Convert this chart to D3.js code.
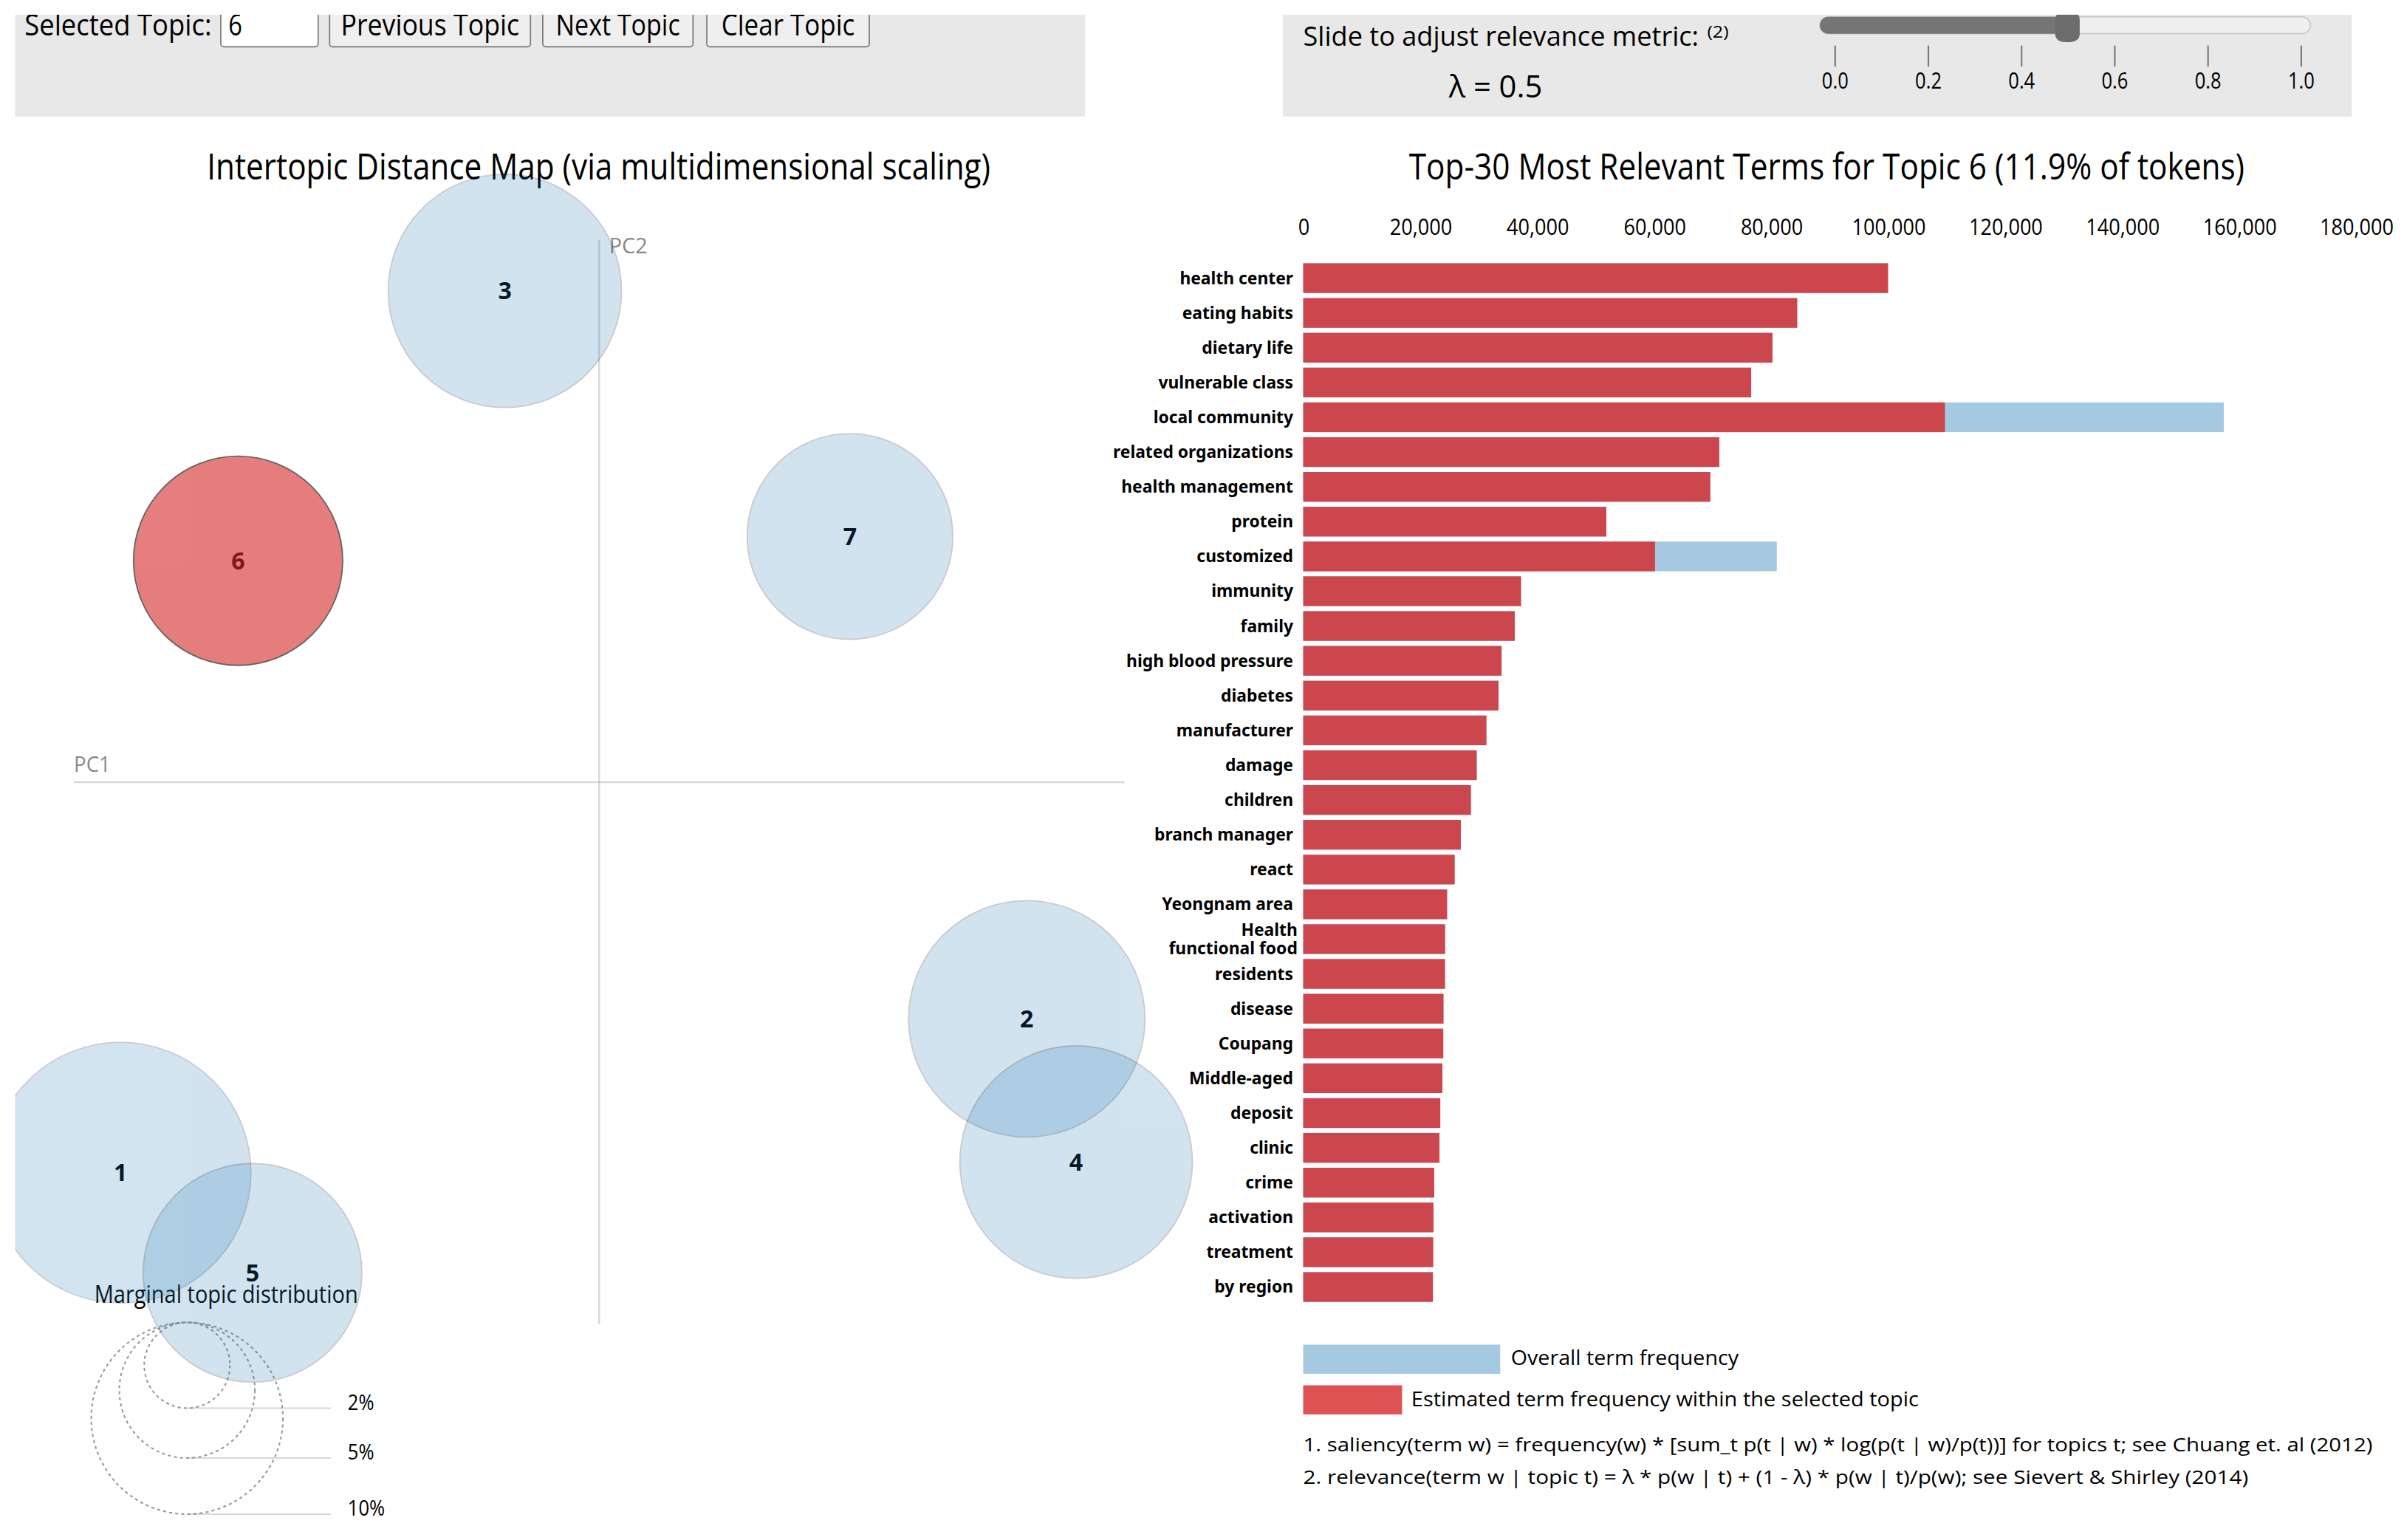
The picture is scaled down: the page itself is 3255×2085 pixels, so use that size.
<!DOCTYPE html>
<html>
<head>
<meta charset="utf-8">
<script src="https://cdn.jsdelivr.net/npm/d3@7"></script>
<style>
  html, body { margin: 0; padding: 0; background: #fff; }
  svg { display: block; font-family: "Open Sans", sans-serif; }
</style>
</head>
<body>
<svg id="vis"></svg>
<script>

/* --- data --- */
var topicIds = [1, 2, 3, 4, 5, 6, 7]
var topicPC1 = [-0.3122, 0.2789, -0.0615, 0.3111, -0.2261, -0.2355, 0.1636]
var topicPC2 = [-0.2546, -0.1543, 0.3205, -0.2477, -0.3199, 0.1445, 0.1603]
var topicShare = [0.185, 0.152, 0.148, 0.147, 0.130, 0.119, 0.115]
var selectedTopic = 6

var terms = [
  "health center", "eating habits", "dietary life", "vulnerable class", "local community",
  "related organizations", "health management", "protein", "customized", "immunity",
  "family", "high blood pressure", "diabetes", "manufacturer", "damage",
  "children", "branch manager", "react", "Yeongnam area", "Health\nfunctional food",
  "residents", "disease", "Coupang", "Middle-aged", "deposit",
  "clinic", "crime", "activation", "treatment", "by region"
]
// estimated term frequency within topic 6
var termTopicFreq = [
  100000, 84470, 80240, 76590, 109720,
  71150, 69610, 51830, 60160, 37250,
  36180, 33920, 33400, 31330, 29670,
  28680, 26950, 25900, 24610, 24270,
  24250, 23990, 23950, 23800, 23440,
  23300, 22410, 22280, 22230, 22180
]
// overall term frequency
var termTotalFreq = [
  100000, 84470, 80240, 76590, 157390,
  71150, 69610, 51830, 80970, 37250,
  36180, 33920, 33400, 31330, 29670,
  28680, 26950, 25900, 24610, 24270,
  24250, 23990, 23950, 23800, 23440,
  23300, 22410, 22280, 22230, 22180
]
var freqTicks = [0, 20000, 40000, 60000, 80000, 100000, 120000, 140000, 160000, 180000]
var lambdaTicks = [0, 0.2, 0.4, 0.6, 0.8, 1.0]
var lambdaValue = 0.5
var guideShares = [0.02, 0.05, 0.10]
var guideLabels = ["2%", "5%", "10%"]

/* --- setup --- */
var color1 = "#1f77b4"
var color2 = "#d62728"

var svg = d3.select("#vis")
    .attr("width", 3255)
    .attr("height", 2085)
    .attr("viewBox", "0 0 1568 1004.4")

// squeeze a text to a given width (the screenshot text is condensed)
var squeeze = function (sel, w) {
  sel.attr("textLength", w).attr("lengthAdjust", "spacingAndGlyphs")
}

/* --- top control panels --- */
svg.append("rect").attr("x", 9.8).attr("y", 9.6).attr("width", 698).attr("height", 66.4).attr("fill", "#e8e8e8")
svg.append("rect").attr("x", 836.7).attr("y", 9.6).attr("width", 697.3).attr("height", 66.4).attr("fill", "#e8e8e8")

svg.append("text").attr("x", 16).attr("y", 23.3).attr("font-size", 19).text("Selected Topic:")
    .call(squeeze, 122)

svg.append("rect").attr("x", 144).attr("y", 4).attr("width", 63.5).attr("height", 26.5).attr("rx", 2)
    .attr("fill", "#fff").attr("stroke", "#767676").attr("stroke-width", 0.8)
svg.append("text").attr("x", 149).attr("y", 23.3).attr("font-size", 19).text(selectedTopic)
    .call(squeeze, 9)

var buttons = [
  {label: "Previous Topic", x0: 215, x1: 346, w: 116.4},
  {label: "Next Topic", x0: 354, x1: 452, w: 81},
  {label: "Clear Topic", x0: 461, x1: 567, w: 87}
]
buttons.forEach(function (b) {
  svg.append("rect").attr("x", b.x0).attr("y", 4).attr("width", b.x1 - b.x0).attr("height", 26.5).attr("rx", 2)
      .attr("fill", "#efefef").attr("stroke", "#767676").attr("stroke-width", 0.8)
  svg.append("text").attr("x", (b.x0 + b.x1) / 2).attr("y", 23.3).attr("text-anchor", "middle")
      .attr("font-size", 19).text(b.label).call(squeeze, b.w)
})

/* slider */
var lam = d3.scaleLinear().domain([0, 1]).range([1196.5, 1500.5])

svg.append("text").attr("x", 850).attr("y", 29.7).attr("font-size", 18)
    .text("Slide to adjust relevance metric:").call(squeeze, 258)
svg.append("text").attr("x", 1113.5).attr("y", 24.5).attr("font-size", 10.5).text("(2)").call(squeeze, 14)
svg.append("text").attr("x", 975.5).attr("y", 63.4).attr("text-anchor", "middle").attr("font-size", 20)
    .text("\u03bb = " + lambdaValue).call(squeeze, 61)

var trackL = lam.range()[0] - 9.5, trackR = lam.range()[1] + 6.5
svg.append("rect").attr("x", trackL).attr("y", 11).attr("width", trackR - trackL).attr("height", 11).attr("rx", 5.5)
    .attr("fill", "#efefef").attr("stroke", "#c9c9c9").attr("stroke-width", 0.8)
svg.append("rect").attr("x", trackL).attr("y", 11).attr("width", lam(lambdaValue) - trackL).attr("height", 11).attr("rx", 5.5)
    .attr("fill", "#757575")
var tx = lam(lambdaValue)
svg.append("path")
    .attr("d", "M" + (tx - 8) + ",13 Q" + (tx - 8) + ",8.5 " + (tx - 4) + ",8.5 L" + (tx + 4) + ",8.5 Q" + (tx + 8) + ",8.5 " + (tx + 8) + ",13" +
        " L" + (tx + 8) + ",22 Q" + (tx + 8) + ",27.5 " + tx + ",27.5 Q" + (tx - 8) + ",27.5 " + (tx - 8) + ",22 Z")
    .attr("fill", "#6c6c6c")

var lamAxis = svg.append("g").attr("transform", "translate(0,29.7)")
    .call(d3.axisBottom(lam).tickValues(lambdaTicks).tickSize(13.7).tickPadding(4).tickFormat(d3.format(".1f")))
lamAxis.select(".domain").remove()
lamAxis.selectAll("line").attr("stroke", "#777").attr("stroke-width", 1)
lamAxis.selectAll("text").attr("font-size", 14.5).attr("font-family", "Open Sans").attr("fill", "#000")
    .each(function () { d3.select(this).call(squeeze, this.getComputedTextLength() * 0.85) })

/* --- left panel: intertopic distance map --- */
svg.append("text").attr("x", 390.5).attr("y", 117).attr("text-anchor", "middle").attr("font-size", 24)
    .text("Intertopic Distance Map (via multidimensional scaling)").call(squeeze, 511)

var xMds = d3.scaleLinear().domain([-0.3426, 0.3426]).range([48.2, 733.4])
var yMds = d3.scaleLinear().domain([-0.3535, 0.3535]).range([863.7, 156.7])
var rMds = d3.scaleSqrt().domain([0, 1]).range([0, 197.7])

var left = svg.append("g")

left.append("line").attr("x1", xMds.range()[0]).attr("x2", xMds.range()[1])
    .attr("y1", yMds(0)).attr("y2", yMds(0)).attr("stroke", "gray").attr("opacity", 0.3).attr("stroke-width", 1.2)
left.append("line").attr("x1", xMds(0)).attr("x2", xMds(0))
    .attr("y1", yMds.range()[1]).attr("y2", yMds.range()[0]).attr("stroke", "gray").attr("opacity", 0.3).attr("stroke-width", 1.2)
left.append("text").attr("x", xMds.range()[0]).attr("y", yMds(0) - 7).attr("font-size", 14).attr("fill", "#888")
    .text("PC1").call(squeeze, 24)
left.append("text").attr("x", xMds(0) + 6.5).attr("y", yMds.range()[1] + 8.5).attr("font-size", 14).attr("fill", "#888")
    .text("PC2").call(squeeze, 25)

/* circle size guide */
var guideTop = 862.5
var rLarge = rMds(guideShares[guideShares.length - 1])
var gcx = 59.5 + rLarge, gcx2 = gcx + 1.5 * rLarge
guideShares.forEach(function (s, i) {
  var r = rMds(s)
  left.append("circle").attr("cx", gcx).attr("cy", guideTop + r).attr("r", r)
      .attr("fill", "none").attr("stroke", "#999").attr("stroke-dasharray", "2 2")
  left.append("line").attr("x1", gcx).attr("x2", gcx2).attr("y1", guideTop + 2 * r).attr("y2", guideTop + 2 * r)
      .attr("stroke", "gray").attr("opacity", 0.3)
  left.append("text").attr("x", gcx2 + 11).attr("y", guideTop + 2 * r + 1).attr("font-size", 14)
      .text(guideLabels[i]).each(function () { d3.select(this).call(squeeze, this.getComputedTextLength() * 0.88) })
})
left.append("text").attr("x", 147.5).attr("y", 850).attr("text-anchor", "middle").attr("font-size", 16)
    .text("Marginal topic distribution").call(squeeze, 172)

/* topics: labels first, circles drawn over them */
var topics = topicIds.map(function (id, i) {
  return {id: id, x: topicPC1[i], y: topicPC2[i], share: topicShare[i]}
})

svg.append("clipPath").attr("id", "leftclip")
    .append("rect").attr("x", 9.8).attr("y", 0).attr("width", 826).attr("height", 1004)

left.selectAll(".tlabel").data(topics).enter().append("text")
    .attr("class", "tlabel")
    .attr("x", function (d) { return xMds(d.x) })
    .attr("y", function (d) { return yMds(d.y) })
    .attr("dy", "0.36em")
    .attr("text-anchor", "middle")
    .attr("font-weight", "bold")
    .attr("font-size", 15.5)
    .text(function (d) { return d.id })

left.append("g").attr("clip-path", "url(#leftclip)")
    .selectAll("circle").data(topics).enter().append("circle")
    .attr("cx", function (d) { return xMds(d.x) })
    .attr("cy", function (d) { return yMds(d.y) })
    .attr("r", function (d) { return rMds(d.share) })
    .attr("fill", function (d) { return d.id === selectedTopic ? color2 : color1 })
    .attr("stroke", "black")
    .attr("stroke-width", 0.9)
    .attr("opacity", function (d) { return d.id === selectedTopic ? 0.6 : 0.2 })

/* --- right panel: bar chart --- */
svg.append("text").attr("x", 1191.5).attr("y", 117).attr("text-anchor", "middle").attr("font-size", 24)
    .text("Top-30 Most Relevant Terms for Topic " + selectedTopic + " (" + (topicShare[selectedTopic - 1] * 100).toFixed(1) + "% of tokens)")
    .call(squeeze, 545)

var xBar = d3.scaleLinear().domain([0, 180000]).range([850, 1536.7])
var yBar = d3.scaleBand().domain(terms).range([171.7, 849.1]).paddingInner(0.145)

var xAxis = svg.append("g").attr("transform", "translate(0,157.5)")
    .call(d3.axisTop(xBar).tickValues(freqTicks).tickSize(0).tickPadding(4.2).tickFormat(d3.format(",")))
xAxis.select(".domain").remove()
xAxis.selectAll("text").attr("font-size", 14.5).attr("font-family", "Open Sans").attr("fill", "#000")
    .each(function () { d3.select(this).call(squeeze, this.getComputedTextLength() * 0.9) })

var bars = terms.map(function (t, i) {
  return {term: t, topic: termTopicFreq[i], total: termTotalFreq[i]}
})

svg.selectAll(".overall").data(bars).enter().append("rect")
    .attr("class", "overall")
    .attr("x", xBar(0))
    .attr("y", function (d) { return yBar(d.term) })
    .attr("width", function (d) { return xBar(d.total) - xBar(0) })
    .attr("height", yBar.bandwidth())
    .attr("fill", color1)
    .attr("opacity", 0.4)

svg.selectAll(".estimate").data(bars).enter().append("rect")
    .attr("class", "estimate")
    .attr("x", xBar(0))
    .attr("y", function (d) { return yBar(d.term) })
    .attr("width", function (d) { return xBar(d.topic) - xBar(0) })
    .attr("height", yBar.bandwidth())
    .attr("fill", color2)
    .attr("opacity", 0.8)

svg.selectAll(".term").data(bars).enter().append("text")
    .attr("class", "term")
    .attr("y", function (d) { return yBar(d.term) + yBar.bandwidth() / 2 })
    .attr("text-anchor", "end")
    .attr("font-family", "'Noto Sans', sans-serif")
    .attr("font-weight", "bold")
    .attr("font-size", 11)
    .each(function (d) {
      var lines = d.term.split("\n"), el = d3.select(this)
      lines.forEach(function (line, i) {
        el.append("tspan")
            .attr("x", xBar(0) - 6.5 + (lines.length > 1 ? 2.8 : 0))
            .attr("dy", i === 0 ? (0.35 - (lines.length - 1) * 0.55) + "em" : "1.1em")
            .text(line)
      })
    })

/* legend */
svg.append("rect").attr("x", xBar(0)).attr("y", 877).attr("width", 128.5).attr("height", 19)
    .attr("fill", color1).attr("opacity", 0.4)
svg.append("text").attr("x", 985.5).attr("y", 890).attr("font-size", 13.5)
    .text("Overall term frequency").call(squeeze, 148.5)
svg.append("rect").attr("x", xBar(0)).attr("y", 903.5).attr("width", 64.5).attr("height", 19)
    .attr("fill", color2).attr("opacity", 0.8)
svg.append("text").attr("x", 920.5).attr("y", 917).attr("font-size", 13.5)
    .text("Estimated term frequency within the selected topic").call(squeeze, 331)

svg.append("text").attr("x", xBar(0)).attr("y", 946.7).attr("font-size", 12.5)
    .text("1. saliency(term w) = frequency(w) * [sum_t p(t | w) * log(p(t | w)/p(t))] for topics t; see Chuang et. al (2012)")
    .call(squeeze, 697.5)
svg.append("text").attr("x", xBar(0)).attr("y", 967.7).attr("font-size", 12.5)
    .text("2. relevance(term w | topic t) = \u03bb * p(w | t) + (1 - \u03bb) * p(w | t)/p(w); see Sievert & Shirley (2014)")
    .call(squeeze, 616.5)

/* the screenshot is cut off at the top */
svg.append("rect").attr("x", 0).attr("y", 0).attr("width", 1568).attr("height", 9.6).attr("fill", "#fff")

</script>
</body>
</html>
